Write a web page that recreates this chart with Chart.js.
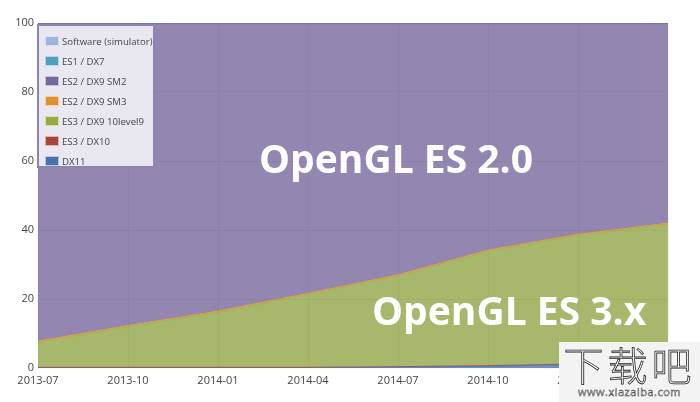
<!DOCTYPE html>
<html>
<head>
<meta charset="utf-8">
<script src="https://cdn.jsdelivr.net/npm/chart.js@4/dist/chart.umd.min.js"></script>
<style>
  body { margin:0; background:#fff; font-family:"Open Sans", sans-serif; }
  #wrap { position:relative; width:700px; height:402px; }
  #legend { position:absolute; left:37px; top:24px; width:118px; height:144px; background:rgba(255,255,255,0.8); border:2px solid #8f84b0; box-sizing:border-box; padding:5px 0 0 6px; }
  .item { height:20px; display:flex; align-items:center; font-size:9.6px; color:#444; white-space:nowrap; }
  .sw { flex:0 0 14px; width:14px; height:10px; margin-right:3px; box-sizing:border-box; border:1px solid rgba(255,255,255,0.6); }
  #wm { position:absolute; left:559px; top:342px; width:141px; height:60px; background:#f3f3f3; text-align:center; }
  #wm .big { font-family:"Noto Sans CJK SC"; font-weight:300; font-size:40px; line-height:44px; color:#fff; -webkit-text-stroke:0.8px #222; letter-spacing:4px; }
  #wm .small { font-size:11px; line-height:12px; color:#fff; -webkit-text-stroke:0.5px #444; letter-spacing:0.5px; }
</style>
</head>
<body>
<div id="wrap">
  <canvas id="chart"></canvas>
  <div id="legend"></div>
  <div id="wm"><div class="big">下载吧</div><div class="small">www.xiazaiba.com</div></div>
</div>
<script>
// quarterly samples
const months = ['2013-07','2013-10','2014-01','2014-04','2014-07','2014-10','2015-01','2015-04'];
const tickLabels = ['2013-07','2013-10','2014-01','2014-04','2014-07','2014-10','2015-01','2015-04'];

const software = [0.1, 0.1, 0.1, 0.1, 0.1, 0.1, 0.1, 0.1];
const es1 = [0.1, 0.1, 0.1, 0.1, 0.1, 0.1, 0.1, 0.1];
const es2sm2 = [92.0, 87.5, 83.3, 78.1, 72.8, 65.6, 61.0, 57.8];
const es2sm3 = [0.3, 0.3, 0.3, 0.3, 0.3, 0.3, 0.3, 0.3];
const es3level9 = [7.3, 11.8, 16.0, 21.2, 26.3, 33.2, 37.3, 39.9];
const es3dx10 = [0.2, 0.2, 0.2, 0.2, 0.2, 0.2, 0.2, 0.2];
const dx11 = [0, 0, 0, 0, 0.2, 0.5, 1.0, 1.6];

const names = ['Software (simulator)','ES1 / DX7','ES2 / DX9 SM2','ES2 / DX9 SM3','ES3 / DX9 10level9','ES3 / DX10','DX11'];
const colors = ['#9fb3dd','#4e9fb9','#736898','#e0902f','#97ab44','#a84538','#4a70b0'];
const fills = ['#b3c3e6','#7db8cc','#9386b0','#e8ab63','#a7b76b','#bf6e63','#6f8ec4'];
const series = [software, es1, es2sm2, es2sm3, es3level9, es3dx10, dx11];

function monthIndex(m){
    const [y, mo] = m.split('-').map(Number);
    return (y-2013)*12 + (mo-7);
}

// stack bottom first: DX11 at the bottom
const datasets = [];
for(let i=series.length-1;i>=0;i--){
    datasets.push({
        label: names[i],
        data: series[i].map((v,k)=>({x:monthIndex(months[k]), y:v})),
        borderColor: colors[i],
        backgroundColor: fills[i],
        borderWidth: 0.8,
        pointRadius: 0,
        fill: datasets.length===0 ? 'origin' : '-1',
        tension: 0
    });
}

// legend box
const legendEl = document.getElementById('legend');
names.forEach((n,i)=>{
    const d = document.createElement('div');
    d.className = 'item';
    d.innerHTML = `<span class="sw" style="background:${colors[i]}"></span>${n}`;
    legendEl.appendChild(d);
});

const overlayText = {
    id:'overlayText',
    afterDatasetsDraw(chart){
        const ctx = chart.ctx;
        ctx.save();
        ctx.fillStyle = '#fff';
        ctx.font = 'bold 39px "Open Sans"';
        ctx.textBaseline = 'alphabetic';
        ctx.textAlign = 'left';
        ctx.fillText('OpenGL ES 2.0', 259, 173);
        ctx.fillText('OpenGL ES 3.x', 372, 325);
        ctx.restore();
    }
};

const ctx = document.getElementById('chart').getContext('2d');
new Chart(ctx, {
    type:'line',
    data:{ datasets },
    options:{
        responsive:true,
        maintainAspectRatio:false,
        animation:false,
        layout:{ padding:{ top:23, right:32, left:0, bottom:0 } },
        plugins:{ legend:{ display:false }, tooltip:{ enabled:false } },
        scales:{
            x:{
                type:'linear', min:0, max:21,
                border:{ display:false },
                grid:{ color:'rgba(0,0,0,0.035)', drawTicks:false, z:1 },
                afterBuildTicks: s => { s.ticks = tickLabels.map(t=>({value:monthIndex(t)})); },
                ticks:{ padding:6, color:'#444', font:{ family:'"Open Sans"', size:11 }, maxRotation:0,
                        callback: v => tickLabels.find(t=>monthIndex(t)===v) || '' },
                afterFit: s => { s.height = 34; }
            },
            y:{
                stacked:true, min:0, max:100,
                border:{ display:false },
                grid:{ color:'rgba(0,0,0,0.035)', drawTicks:false, z:1 },
                ticks:{ stepSize:20, padding:4, color:'#444', font:{ family:'"Open Sans"', size:11 } },
                afterFit: s => { s.width = 38; }
            }
        }
    },
    plugins:[overlayText]
});
</script>
</body>
</html>
